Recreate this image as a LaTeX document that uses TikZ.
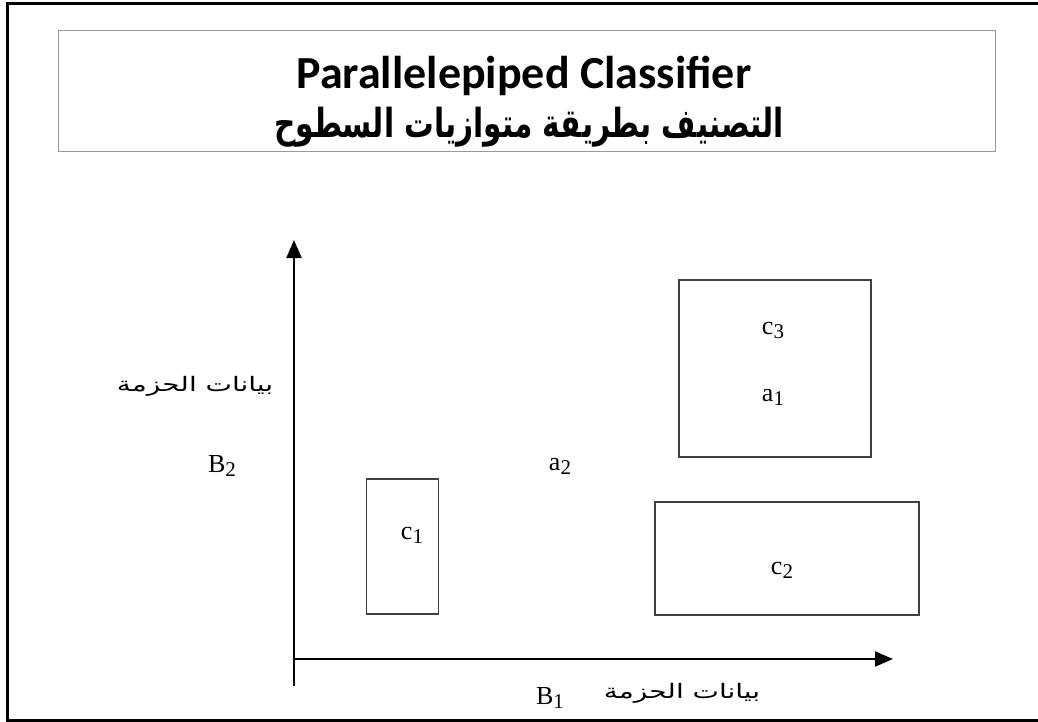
\documentclass[tikz,border=0pt]{standalone}
\usepackage{fontspec}
\usepackage{graphicx}
\usetikzlibrary{arrows.meta}
\TeXXeTstate=1
\setmainfont{Liberation Serif}
\newfontfamily\titlefont{Carlito}
\newfontfamily\arabicfont[Script=Arabic]{DejaVu Sans}
\newcommand{\sbs}[1]{\raisebox{-4pt}{\fontsize{21}{21}\selectfont #1}}
\newcommand{\arwide}[1]{\scalebox{1.4}[1]{\arabicfont\fontsize{20}{24}\selectfont\beginR #1\endR}}
\begin{document}
\begin{tikzpicture}[x=1pt,y=-1pt,
  classbox/.style={draw=black!75,line width=1.5pt,inner sep=0pt},
  lbl/.style={font=\fontsize{26}{28}\selectfont,inner sep=0pt},
  arlbl/.style={inner sep=0pt},
  axis/.style={line width=2pt,-{Triangle[length=18pt,width=15pt]}}]
\useasboundingbox (0,0) rectangle (1038,722);
\fill[white] (0,0) rectangle (1038,722);
% outer frame
\draw[line width=3pt] (1045,3.5) -- (7.5,3.5) -- (7.5,720) -- (1045,720);
% title box
\node[draw=black!40,line width=1pt,minimum width=937pt,minimum height=121pt,inner sep=0pt] (title) at (526.5,91.5) {};
\node[font=\titlefont\bfseries\fontsize{46}{50}\selectfont,inner sep=0pt] (t1) at (524,76) {Parallelepiped Classifier};
\node[inner sep=0pt] (t2) at (529,127) {\scalebox{0.74}[1]{\arabicfont\bfseries\fontsize{40}{44}\selectfont\beginR التصنيف بطريقة متوازيات السطوح\endR}};
% axes
\coordinate (ybot) at (294,686);
\coordinate (ytop) at (294,240);
\coordinate (o) at (294,659);
\coordinate (xend) at (893,659);
\draw[axis] (ybot) -- (ytop);
\draw[axis] (o) -- (xend);
% class boxes
\node[classbox,minimum width=72pt,minimum height=135pt] (b1) at (402.5,546.5) {};
\node[classbox,minimum width=192pt,minimum height=177pt] (b3) at (775,368.5) {};
\node[classbox,minimum width=264pt,minimum height=113pt] (b2) at (787,558.5) {};
% labels
\node[lbl] (c1) at (412,535) {c\sbs{1}};
\node[lbl] (c3) at (773,330) {c\sbs{3}};
\node[lbl] (a1) at (773,397) {a\sbs{1}};
\node[lbl] (c2) at (782,570) {c\sbs{2}};
\node[lbl] (a2) at (560,466) {a\sbs{2}};
\node[lbl] (B2) at (222,466) {B\sbs{2}};
\node[lbl] (B1) at (550,698) {B\sbs{1}};
\node[arlbl] (ar2) at (195,386) {\arwide{بيانات الحزمة}};
\node[arlbl] (ar1) at (682,693) {\arwide{بيانات الحزمة}};
\end{tikzpicture}
\end{document}
